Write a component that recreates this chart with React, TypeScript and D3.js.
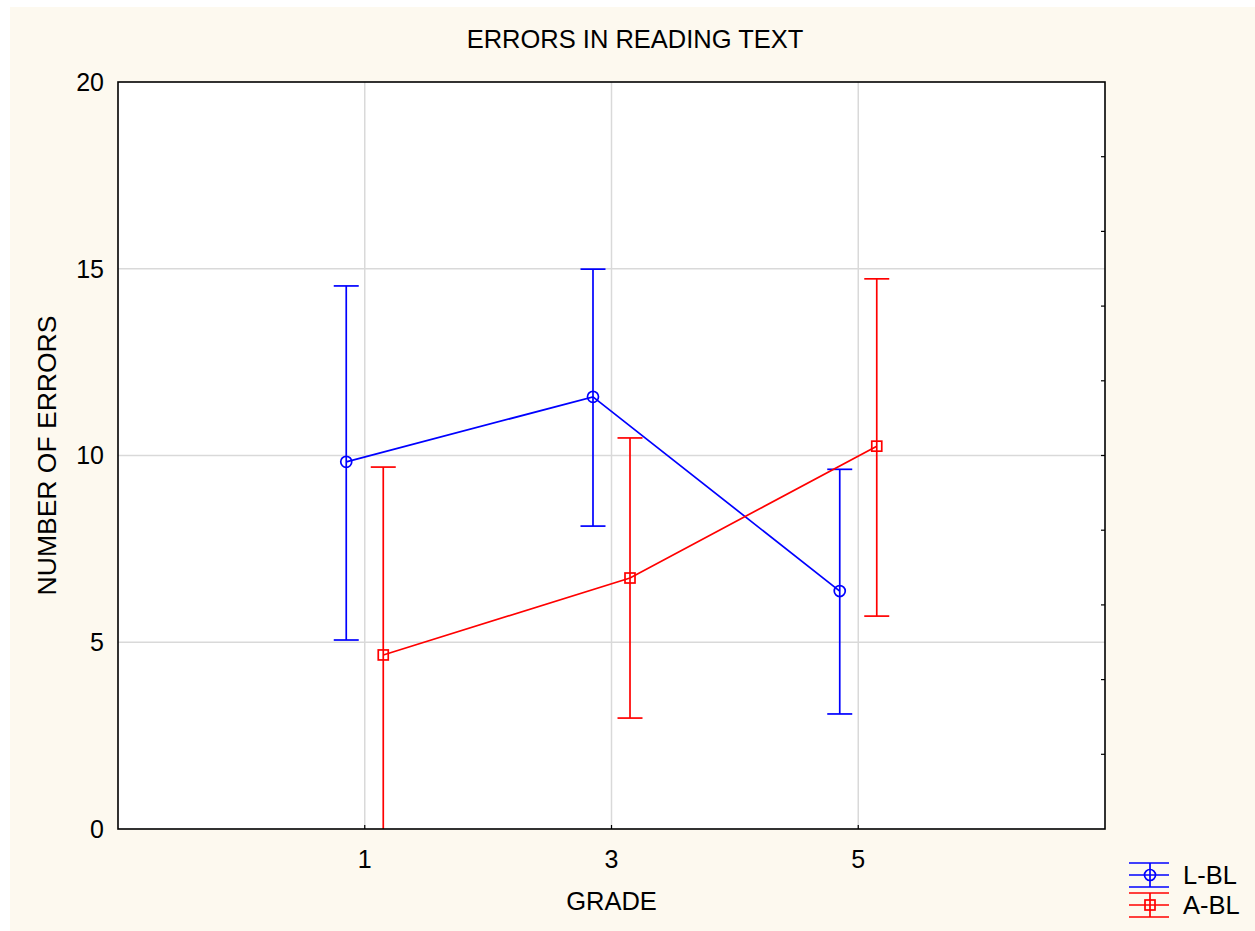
import React from 'react';
import * as d3 from 'd3';

// values
const grades = [1, 3, 5];
const yTicks = [0, 5, 10, 15, 20];
const minorTicks = [2, 4, 6, 8, 10, 12, 14, 16, 18];

const lblMean = [9.83, 11.57, 6.37];
const lblLow = [5.06, 8.11, 3.08];
const lblHigh = [14.54, 14.99, 9.63];

const ablMean = [4.66, 6.72, 10.25];
const ablLow = [-0.37, 2.97, 5.7];
const ablHigh = [9.69, 10.47, 14.73];

const series = [
  { name: 'L-BL', color: '#0000ff', shape: 'circle', offset: -0.15, mean: lblMean, low: lblLow, high: lblHigh },
  { name: 'A-BL', color: '#ff0000', shape: 'square', offset: 0.15, mean: ablMean, low: ablLow, high: ablHigh },
];

const W = 1255;
const H = 931;
const margin = { top: 82, right: 150, bottom: 102, left: 118 };
const font = '"Liberation Sans", Arial, sans-serif';

const App = () => {
  const x = d3.scaleLinear().domain([-1, 7]).range([margin.left, W - margin.right]);
  const y = d3.scaleLinear().domain([0, 20]).range([H - margin.bottom, margin.top]);
  const [x0, x1] = x.range();
  const [y0, y1] = y.range();
  const capW = 12.5;

  return (
    <div style={{ position: 'absolute', left: 0, top: 0 }}>
      <svg width={W} height={H} style={{ display: 'block', fontFamily: font }}>
        <rect x={0} y={0} width={W} height={H} fill="#ffffff" />
        <rect x={10} y={7} width={W - 10} height={H - 7} fill="#fdf9ef" />
        <rect x={x0} y={y1} width={x1 - x0} height={y0 - y1} fill="#ffffff" />
        <defs>
          <clipPath id="plot">
            <rect x={x0} y={y1} width={x1 - x0} height={y0 - y1} />
          </clipPath>
        </defs>

        {/* grid */}
        {grades.map((g) => (
          <line key={'gx' + g} x1={x(g)} x2={x(g)} y1={y1} y2={y0} stroke="#d9d9d9" strokeWidth={1.5} />
        ))}
        {yTicks.slice(1, -1).map((t) => (
          <line key={'gy' + t} x1={x0} x2={x1} y1={y(t)} y2={y(t)} stroke="#d9d9d9" strokeWidth={1.5} />
        ))}

        {/* minor ticks on right side, tick marks at the grades */}
        {minorTicks.map((t) => (
          <line key={'mt' + t} x1={x1 - 4} x2={x1} y1={y(t)} y2={y(t)} stroke="#000" strokeWidth={1.2} />
        ))}
        {grades.map((g) => (
          <line key={'xt' + g} x1={x(g)} x2={x(g)} y1={y0 - 4} y2={y0} stroke="#000" strokeWidth={1.2} />
        ))}

        {/* series */}
        <g clipPath="url(#plot)">
          {series.map((s) => (
            <g key={s.name} stroke={s.color} strokeWidth={1.7} fill="none">
              <path
                d={
                  d3
                    .line<number>()
                    .x((_, i) => x(grades[i] + s.offset))
                    .y((d) => y(d))(s.mean) || ''
                }
              />
              {grades.map((g, i) => {
                const cx = x(g + s.offset);
                return (
                  <g key={g}>
                    <line x1={cx} x2={cx} y1={y(s.low[i])} y2={y(s.high[i])} />
                    <line x1={cx - capW} x2={cx + capW} y1={y(s.high[i])} y2={y(s.high[i])} />
                    <line x1={cx - capW} x2={cx + capW} y1={y(s.low[i])} y2={y(s.low[i])} />
                    {s.shape === 'circle' ? (
                      <circle cx={cx} cy={y(s.mean[i])} r={5.5} fill="none" />
                    ) : (
                      <rect x={cx - 5} y={y(s.mean[i]) - 5} width={10} height={10} fill="none" />
                    )}
                  </g>
                );
              })}
            </g>
          ))}
        </g>

        {/* frame */}
        <rect x={x0} y={y1} width={x1 - x0} height={y0 - y1} fill="none" stroke="#000" strokeWidth={1.6} />

        {/* y tick labels */}
        {yTicks.map((t) => (
          <text key={'yl' + t} x={104} y={y(t)} dy="0.35em" textAnchor="end" fontSize={25} fill="#000">
            {t}
          </text>
        ))}
        {/* x tick labels */}
        {grades.map((g) => (
          <text key={'xl' + g} x={x(g)} y={868} textAnchor="middle" fontSize={25} fill="#000">
            {g}
          </text>
        ))}

        <text x={635} y={48} textAnchor="middle" fontSize={25.5} fill="#000">
          ERRORS IN READING TEXT
        </text>
        <text x={(x0 + x1) / 2} y={910} textAnchor="middle" fontSize={25.5} fill="#000">
          GRADE
        </text>
        <text
          transform={`translate(56,${(y0 + y1) / 2}) rotate(-90)`}
          textAnchor="middle"
          fontSize={26.5}
          fill="#000"
        >
          NUMBER OF ERRORS
        </text>

        {/* legend */}
        {series.map((s, i) => {
          const cy = 875 + i * 30;
          return (
            <g key={'lg' + s.name}>
              <g stroke={s.color} strokeWidth={1.7} fill="none">
                <line x1={1129} x2={1169} y1={cy - 12} y2={cy - 12} />
                <line x1={1129} x2={1169} y1={cy} y2={cy} />
                <line x1={1129} x2={1169} y1={cy + 12} y2={cy + 12} />
                <line x1={1150} x2={1150} y1={cy - 12} y2={cy + 12} />
                {s.shape === 'circle' ? (
                  <circle cx={1150} cy={cy} r={5.5} />
                ) : (
                  <rect x={1145} y={cy - 5} width={10} height={10} />
                )}
              </g>
              <text x={1183} y={cy} dy="0.35em" fontSize={25.5} fill="#000">
                {s.name}
              </text>
            </g>
          );
        })}
      </svg>
    </div>
  );
};

export default App;
